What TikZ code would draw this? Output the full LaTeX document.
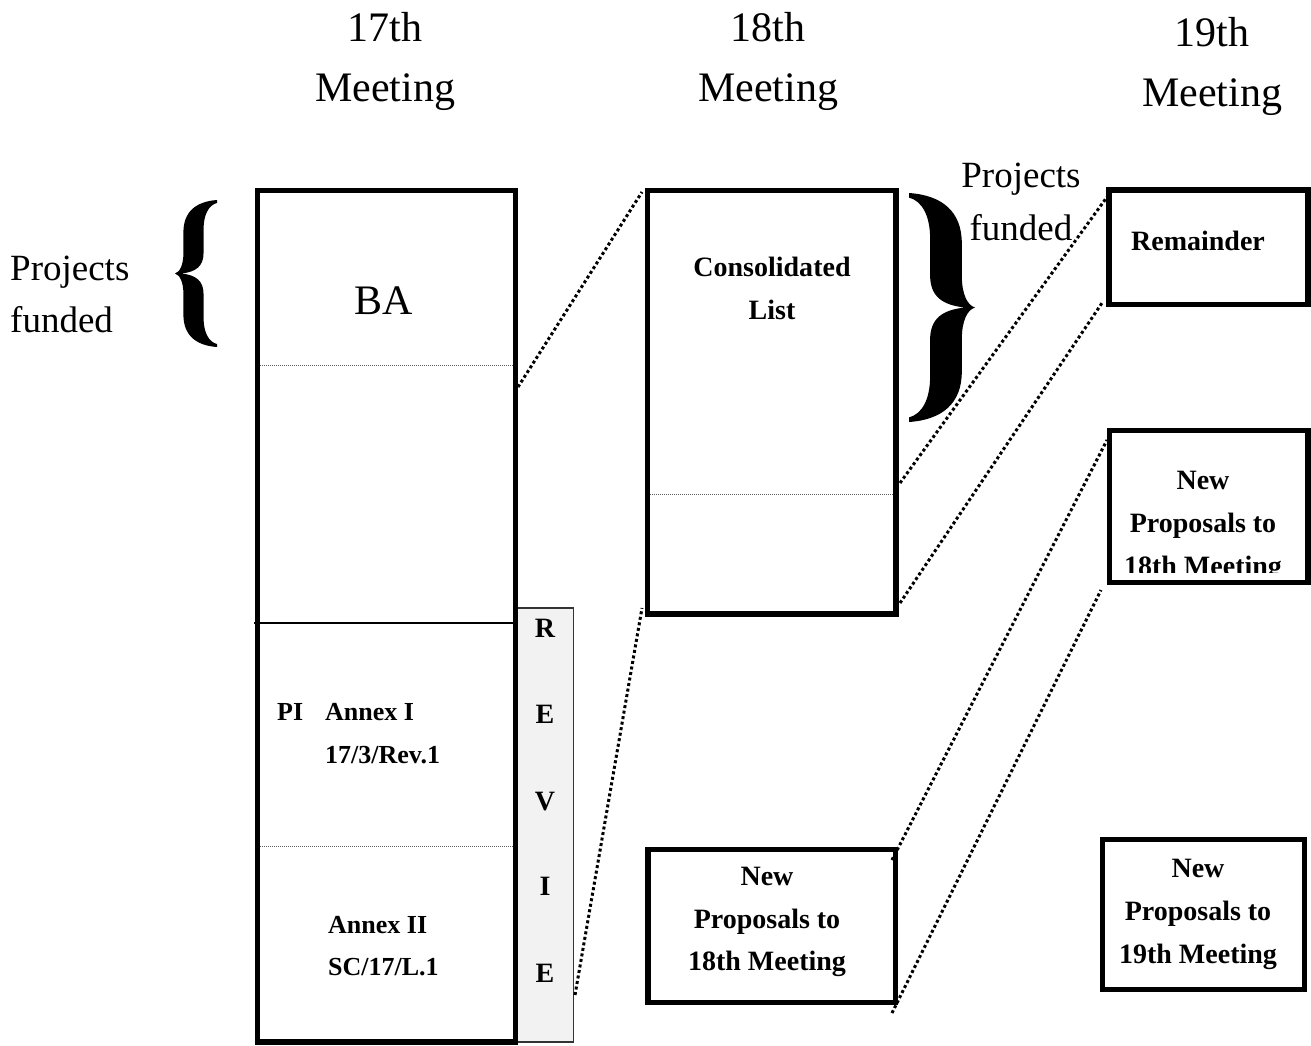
\documentclass[tikz,border=0pt]{standalone}
\usepackage{fontspec}
\setmainfont{Liberation Serif}
\newcommand\hdfont{\fontsize{42}{50}\selectfont}
\newcommand\pjfont{\fontsize{37}{44}\selectfont}
\newcommand\bdfont{\fontsize{28}{34}\selectfont\bfseries}
\newcommand\smfont{\fontsize{26}{32}\selectfont\bfseries}
\tikzset{
  box/.style={draw=black, line width=5.2pt, inner sep=0pt},
  hd/.style={anchor=base, font=\hdfont, inner sep=0pt},
  pj/.style={anchor=base, font=\pjfont, inner sep=0pt},
  lbl/.style={anchor=base, font=\bdfont, inner sep=0pt},
  sml/.style={anchor=base west, font=\smfont, inner sep=0pt},
  conn/.style={line width=3pt, dash pattern=on 3pt off 2.6pt},
  sepline/.style={line width=1pt, dash pattern=on 1pt off 1pt, draw=black!65},
}
\newcommand\bracepath{%
  (1,0) .. controls (0.5,0.01) and (0.2,0.08) .. (0.2,0.22) -- (0.2,0.36)
  .. controls (0.2,0.44) and (0.12,0.49) .. (0,0.5)
  .. controls (0.12,0.51) and (0.2,0.56) .. (0.2,0.64) -- (0.2,0.78)
  .. controls (0.2,0.92) and (0.5,0.99) .. (1,1)
  -- (1,0.98) .. controls (0.8,0.965) and (0.68,0.9) .. (0.68,0.8) -- (0.68,0.64)
  .. controls (0.68,0.55) and (0.5,0.51) .. (0.15,0.5)
  .. controls (0.5,0.49) and (0.68,0.45) .. (0.68,0.36) -- (0.68,0.2)
  .. controls (0.68,0.1) and (0.8,0.035) .. (1,0.02) -- cycle}
\begin{document}
\begin{tikzpicture}[x=1pt,y=-1pt]
\useasboundingbox[fill=white] (0,0) rectangle (1311,1045);

% headers
\node[hd] (h17a) at (385,41) {17th};
\node[hd] (h17b) at (385,101) {Meeting};
\node[hd] (h18a) at (768,41) {18th};
\node[hd] (h18b) at (768,101) {Meeting};
\node[hd] (h19a) at (1212,46) {19th};
\node[hd] (h19b) at (1212,106) {Meeting};

% projects funded labels
\node[pj, anchor=base west] (pfa) at (10,280) {Projects};
\node[pj, anchor=base west] (pfb) at (10,332) {funded};
\node[pj] (pfc) at (1021,187) {Projects};
\node[pj] (pfd) at (1021,240) {funded};

% braces
\begin{scope}[shift={(175,200)}, xscale=42, yscale=147]
  \fill[black] \bracepath;
\end{scope}
\begin{scope}[shift={(975,193)}, xscale=-66, yscale=229]
  \fill[black] \bracepath;
\end{scope}

% REVIE strip
\node[draw=black!80, fill=black!5, line width=1.5pt, inner sep=0pt,
      minimum width=57.5pt, minimum height=434pt] (rev) at (544.75,825) {};
\node[lbl] (r1) at (545,637) {R};
\node[lbl] (r2) at (545,723) {E};
\node[lbl] (r3) at (545,810) {V};
\node[lbl] (r4) at (545,895) {I};
\node[lbl] (r5) at (545,982) {E};

% 17th meeting column
\node[box, minimum width=258pt, minimum height=851.5pt] (m17) at (386.5,616.25) {};
\draw[sepline] (260,365) -- (513,365);
\draw[line width=2.2pt] (254,623) -- (513,623);
\draw[sepline] (260,846) -- (513,846);
\node[font=\fontsize{42}{50}\selectfont, anchor=base, inner sep=0pt] (ba) at (384,314) {BA};
\node[sml] (pi) at (277,720) {PI};
\node[sml] (an1) at (325,720) {Annex I};
\node[sml] (an1b) at (325,763) {17/3/Rev.1};
\node[sml] (an2) at (328,933) {Annex II};
\node[sml] (an2b) at (328,975) {SC/17/L.1};

% 18th meeting
\node[box, minimum width=248.5pt, minimum height=423.5pt] (cons) at (771.75,402.25) {};
\draw[sepline] (650,494) -- (893,494);
\node[lbl] (cl1) at (772,276) {Consolidated};
\node[lbl] (cl2) at (772,319) {List};

\node[box, minimum width=247.5pt, minimum height=153pt] (np18m) at (771.75,926) {};
\node[lbl] (nm1) at (767,885) {New};
\node[lbl] (nm2) at (767,928) {Proposals to};
\node[lbl] (nm3) at (767,970) {18th Meeting};

% 19th meeting
\node[box, minimum width=199pt, minimum height=114.5pt] (rem) at (1208.5,247.25) {};
\node[lbl] (remt) at (1198,250) {Remainder};

\node[box, minimum width=198.5pt, minimum height=152pt] (np18r) at (1208.75,506.5) {};
\node[lbl] (nr1) at (1203,489) {New};
\node[lbl] (nr2) at (1203,532) {Proposals to};
\begin{scope}
  \clip (1100,540) rectangle (1320,572);
  \node[lbl] (nr3) at (1203,575) {18th Meeting};
\end{scope}

\node[box, minimum width=202pt, minimum height=150pt] (np19) at (1203.5,914.5) {};
\node[lbl] (n91) at (1198,877) {New};
\node[lbl] (n92) at (1198,920) {Proposals to};
\node[lbl] (n93) at (1198,963) {19th Meeting};

% connector end points
\coordinate (l1a) at (518,387);  \coordinate (l1b) at (642,192);
\coordinate (l2a) at (575,995);  \coordinate (l2b) at (642,608);
\coordinate (l3a) at (900,483);  \coordinate (l3b) at (1107,197);
\coordinate (l4a) at (900,603);  \coordinate (l4b) at (1102,303);
\coordinate (l5a) at (892,860);  \coordinate (l5b) at (1107,440);
\coordinate (l6a) at (892,1013); \coordinate (l6b) at (1101,590);

\draw[conn] (l1a) -- (l1b);
\draw[conn] (l2a) -- (l2b);
\draw[conn] (l3a) -- (l3b);
\draw[conn] (l4a) -- (l4b);
\draw[conn] (l5a) -- (l5b);
\draw[conn] (l6a) -- (l6b);
\end{tikzpicture}
\end{document}
